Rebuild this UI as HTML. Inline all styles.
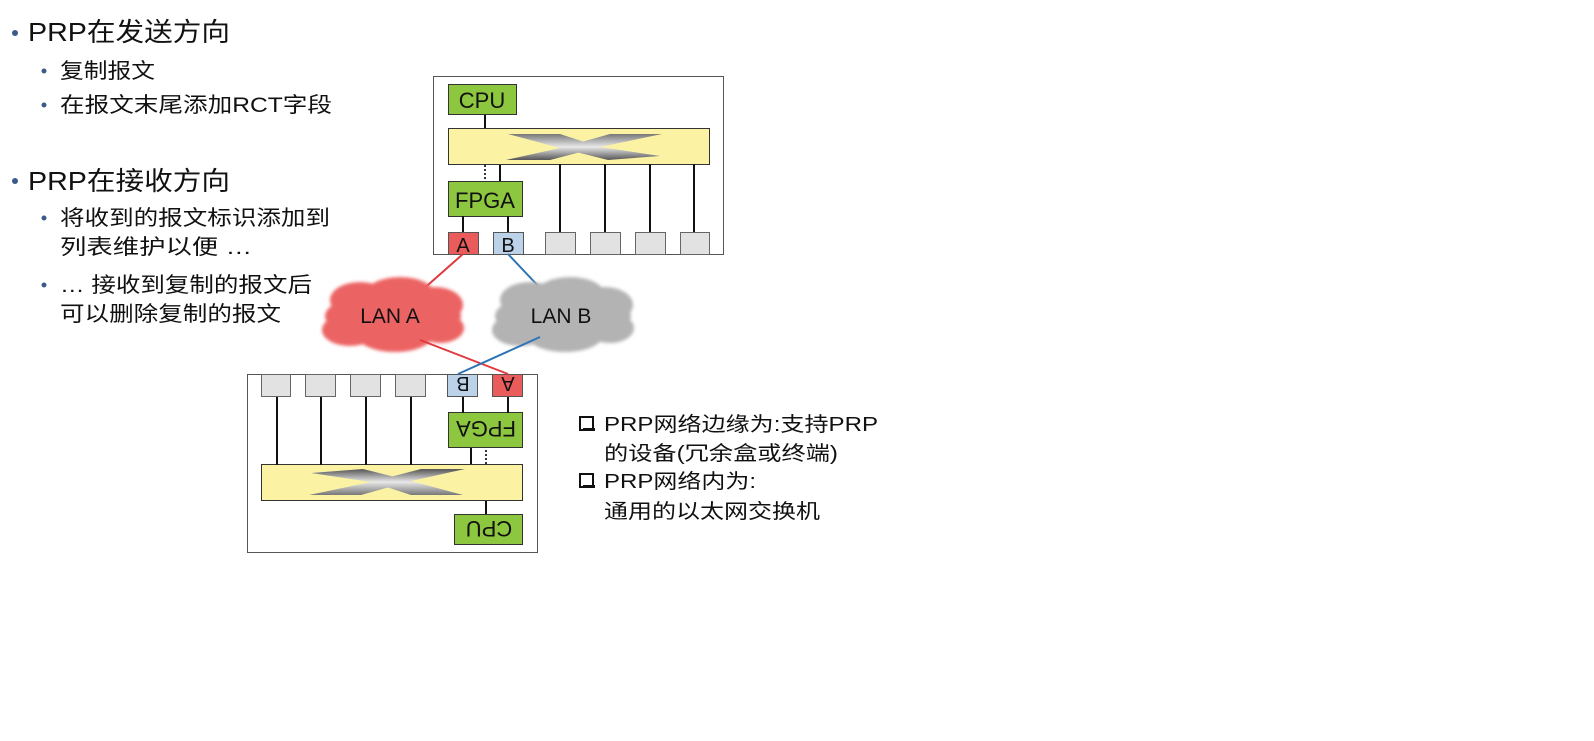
<!DOCTYPE html>
<html><head><meta charset="utf-8"><style>
html,body{margin:0;padding:0;background:#fff;}
svg{display:block;}
text{font-family:"Liberation Sans","Noto Sans CJK SC",sans-serif;fill:#111;}
</style></head><body>
<svg width="1594" height="741" viewBox="0 0 1594 741" xmlns="http://www.w3.org/2000/svg">
<defs>
<linearGradient id="xg" x1="0" y1="0" x2="0" y2="1">
<stop offset="0" stop-color="#777"/><stop offset="0.5" stop-color="#e8e8e8"/><stop offset="1" stop-color="#555"/>
</linearGradient>
<filter id="blur"><feGaussianBlur stdDeviation="1.5"/></filter>
<g id="node">
<rect x="433.5" y="76.5" width="290" height="178" fill="#fff" stroke="#555" stroke-width="1"/>
<line x1="485" y1="114" x2="485" y2="128" stroke="#111" stroke-width="2"/>
<rect x="448.5" y="84.5" width="68" height="30" fill="#8dc63f" stroke="#333"/>
<rect x="448.5" y="128.5" width="261" height="36" fill="#fbf3a3" stroke="#333"/>
<polygon points="508,134 560,134 600,147 660,156 608,160 560,148" fill="url(#xg)"/>
<polygon points="610,134 662,134 600,147 550,160 506,160 560,148" fill="url(#xg)"/>
<line x1="485" y1="165" x2="485" y2="181" stroke="#334" stroke-width="2" stroke-dasharray="2,2"/>
<line x1="500" y1="165" x2="500" y2="181" stroke="#111" stroke-width="2"/>
<rect x="448.5" y="181.5" width="74" height="35" fill="#8dc63f" stroke="#333"/>
<line x1="463" y1="216" x2="463" y2="232" stroke="#111" stroke-width="2"/>
<line x1="508" y1="216" x2="508" y2="232" stroke="#111" stroke-width="2"/>
<line x1="560" y1="164" x2="560" y2="232" stroke="#111" stroke-width="2"/>
<line x1="605" y1="164" x2="605" y2="232" stroke="#111" stroke-width="2"/>
<line x1="650" y1="164" x2="650" y2="232" stroke="#111" stroke-width="2"/>
<line x1="694" y1="164" x2="694" y2="232" stroke="#111" stroke-width="2"/>
<rect x="448.5" y="232.5" width="30" height="22" fill="#ea5c5c" stroke="#555"/>
<rect x="493.5" y="232.5" width="30" height="22" fill="#bcd2e8" stroke="#555"/>
<rect x="545.5" y="232.5" width="30" height="22" fill="#e2e2e2" stroke="#666"/>
<rect x="590.5" y="232.5" width="30" height="22" fill="#e2e2e2" stroke="#666"/>
<rect x="635.5" y="232.5" width="30" height="22" fill="#e2e2e2" stroke="#666"/>
<rect x="680.5" y="232.5" width="29" height="22" fill="#e2e2e2" stroke="#666"/>
<text x="482" y="108" font-size="22" text-anchor="middle">CPU</text>
<text x="485" y="208" font-size="22" text-anchor="middle">FPGA</text>
<text x="463" y="252" font-size="20" text-anchor="middle">A</text>
<text x="508" y="252" font-size="20" text-anchor="middle">B</text>
</g>
</defs>
<use href="#node"/>
<use href="#node" transform="rotate(180 485.5 314.5)"/>
<line x1="463" y1="254" x2="420" y2="292" stroke="#e0393e" stroke-width="2"/>
<line x1="508" y1="254" x2="542" y2="290" stroke="#2e74b5" stroke-width="2"/>
<g filter="url(#blur)">
<g fill="#ec6464">
<ellipse cx="393" cy="316" rx="68" ry="24"/>
<ellipse cx="360" cy="300" rx="30" ry="18"/>
<ellipse cx="400" cy="295" rx="35" ry="18"/>
<ellipse cx="435" cy="305" rx="28" ry="18"/>
<ellipse cx="350" cy="330" rx="28" ry="16"/>
<ellipse cx="395" cy="335" rx="38" ry="17"/>
<ellipse cx="440" cy="328" rx="24" ry="15"/>
</g>
<g fill="#b3b3b3">
<ellipse cx="563" cy="316" rx="68" ry="24"/>
<ellipse cx="530" cy="300" rx="30" ry="18"/>
<ellipse cx="570" cy="295" rx="35" ry="18"/>
<ellipse cx="605" cy="305" rx="28" ry="18"/>
<ellipse cx="520" cy="330" rx="28" ry="16"/>
<ellipse cx="565" cy="335" rx="38" ry="17"/>
<ellipse cx="610" cy="328" rx="24" ry="15"/>
</g>
</g>
<text x="390" y="323" font-size="21" text-anchor="middle">LAN A</text>
<text x="561" y="323" font-size="21" text-anchor="middle">LAN B</text>
<line x1="420" y1="340" x2="508" y2="374" stroke="#e0393e" stroke-width="2"/>
<line x1="540" y1="337" x2="458" y2="374" stroke="#2e74b5" stroke-width="2"/>
<g>
<circle cx="15" cy="33" r="3" fill="#3b5a8c"/>
<text x="28" y="41" font-size="26" textLength="202" lengthAdjust="spacingAndGlyphs">PRP在发送方向</text>
<circle cx="44" cy="71" r="2.5" fill="#3b5a8c"/>
<text x="60" y="78" font-size="21" textLength="95" lengthAdjust="spacingAndGlyphs">复制报文</text>
<circle cx="44" cy="105" r="2.5" fill="#3b5a8c"/>
<text x="60" y="112" font-size="21" textLength="272" lengthAdjust="spacingAndGlyphs">在报文末尾添加RCT字段</text>
<circle cx="15" cy="181" r="3" fill="#3b5a8c"/>
<text x="28" y="190" font-size="26" textLength="202" lengthAdjust="spacingAndGlyphs">PRP在接收方向</text>
<circle cx="44" cy="218" r="2.5" fill="#3b5a8c"/>
<text x="60" y="225" font-size="21" textLength="270" lengthAdjust="spacingAndGlyphs">将收到的报文标识添加到</text>
<text x="60" y="254" font-size="21" textLength="192" lengthAdjust="spacingAndGlyphs">列表维护以便 …</text>
<circle cx="44" cy="285" r="2.5" fill="#3b5a8c"/>
<text x="60" y="292" font-size="21" textLength="252" lengthAdjust="spacingAndGlyphs">… 接收到复制的报文后</text>
<text x="60" y="321" font-size="21" textLength="221" lengthAdjust="spacingAndGlyphs">可以删除复制的报文</text>
</g>
<g>
<rect x="580" y="417" width="13" height="13" fill="#fff" stroke="#111" stroke-width="2"/>
<rect x="583" y="428" width="12" height="3" fill="#111"/>
<text x="604" y="431" font-size="20" textLength="274" lengthAdjust="spacingAndGlyphs">PRP网络边缘为:支持PRP</text>
<text x="604" y="460" font-size="20" textLength="234" lengthAdjust="spacingAndGlyphs">的设备(冗余盒或终端)</text>
<rect x="580" y="474" width="13" height="13" fill="#fff" stroke="#111" stroke-width="2"/>
<rect x="583" y="485" width="12" height="3" fill="#111"/>
<text x="604" y="488" font-size="20" textLength="152" lengthAdjust="spacingAndGlyphs">PRP网络内为:</text>
<text x="604" y="518" font-size="20" textLength="216" lengthAdjust="spacingAndGlyphs">通用的以太网交换机</text>
</g>
</svg>
</body></html>
